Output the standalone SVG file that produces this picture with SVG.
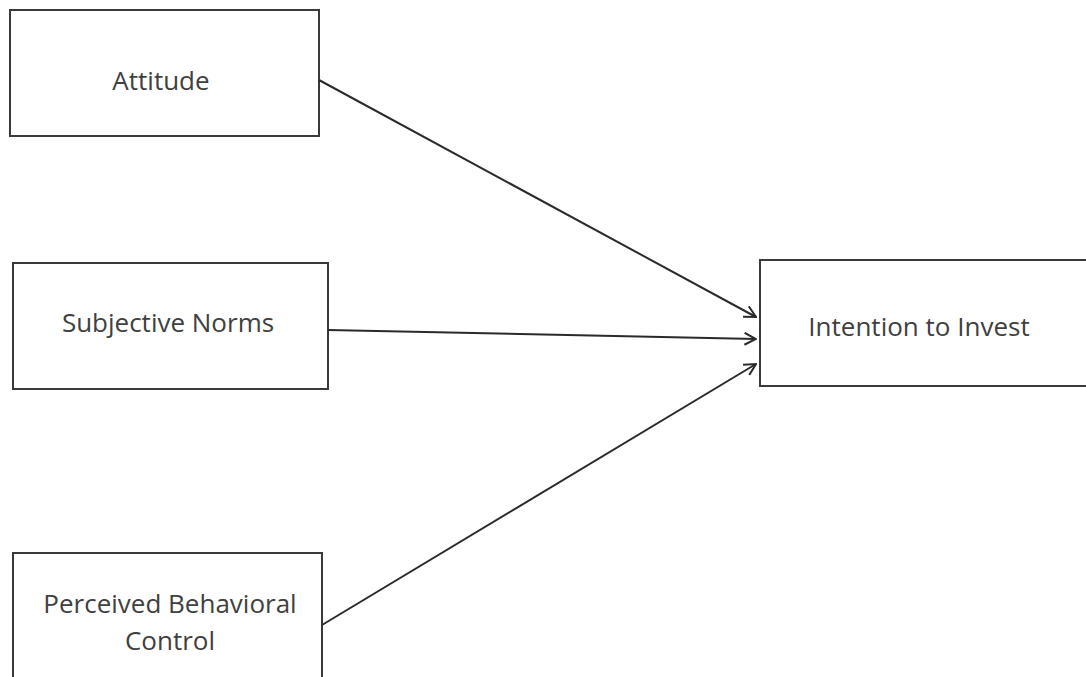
<svg xmlns="http://www.w3.org/2000/svg" width="1086" height="677" viewBox="0 0 1086 677">
<style>
.box{fill:#fff;stroke:#3a3a3a;stroke-width:2}
.lbl{font-family:"Open Sans","Noto Sans",sans-serif;font-size:26px;fill:#404040;text-anchor:middle}
.conn{stroke:#2a2a2a;stroke-width:2;fill:none}
</style>
<defs>
<marker id="arr" viewBox="0 0 14 14" refX="13" refY="7" markerWidth="14" markerHeight="14" markerUnits="userSpaceOnUse" orient="auto">
<path d="M1.5,1 L13,7 L1.5,13" fill="none" stroke="#2a2a2a" stroke-width="2"/>
</marker>
</defs>
<rect width="1086" height="677" fill="#fff"/>
<g id="attitude"><rect class="box" x="10" y="10" width="309" height="126"/><text class="lbl" x="161" y="90">Attitude</text></g>
<g id="subjective-norms"><rect class="box" x="13" y="263" width="315" height="126"/><text class="lbl" x="168" y="332">Subjective Norms</text></g>
<g id="pbc"><rect class="box" x="13" y="553" width="309" height="140"/><text class="lbl" x="170" y="613">Perceived Behavioral</text><text class="lbl" x="170" y="650">Control</text></g>
<g id="intention"><rect class="box" x="760" y="260" width="340" height="126"/><text class="lbl" x="919" y="336">Intention to Invest</text></g>
<g id="connectors">
<line class="conn" x1="319" y1="80" x2="756" y2="317" marker-end="url(#arr)"/>
<line class="conn" x1="328" y1="330" x2="756" y2="339" marker-end="url(#arr)"/>
<line class="conn" x1="322" y1="625" x2="756" y2="364" marker-end="url(#arr)"/>
</g>
</svg>
